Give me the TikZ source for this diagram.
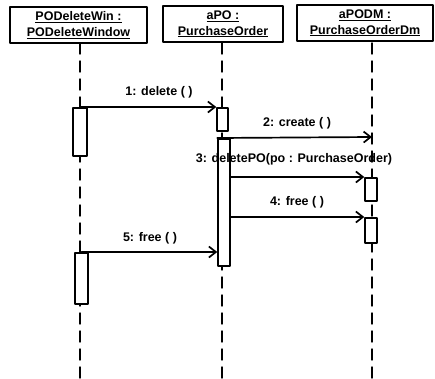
\documentclass[tikz,border=0pt]{standalone}
\usepackage{fontspec}
\setmainfont{Liberation Sans}
\usetikzlibrary{arrows.meta}

\begin{document}
\begin{tikzpicture}[
  x=1pt,
  y=-1pt,
  line cap=round,
  line join=round,
  object/.style={draw=black, line width=2.4, fill=white, minimum width=#1, minimum height=36,
    align=center, inner sep=0, font=\bfseries\fontsize{12.5}{15.5}\selectfont},
  act/.style={draw=black, line width=1.5, fill=white, anchor=north, minimum width=12, inner sep=0},
  lifeline/.style={draw=black, line width=1.4, dash pattern=on 11 off 7},
  msg/.style={draw=black, line width=1.7, -{Straight Barb[length=7,width=11,line width=1.7]}},
  msglabel/.style={font=\bfseries\fontsize{12.5}{14}\selectfont, inner sep=0}
]
\path[use as bounding box] (0,0) rectangle (435,378);
\fill[white] (0,0) rectangle (435,378);

% Objects
\node[object=137] (win) at (78.5,25) {\underline{PODeleteWin :}\\\underline{PODeleteWindow}};
\node[object=120] (po) at (223,24) {\underline{aPO :}\\\underline{PurchaseOrder}};
\node[object=136] (dm) at (365,23) {\underline{aPODM :}\\\underline{PurchaseOrderDm}};

% Lifelines
\draw[lifeline] (80,43) -- (80,378);
\draw[lifeline] (222,43) -- (222,378);
\draw[lifeline] (372,43) -- (372,378);

% Activations
\node[act, minimum width=14, minimum height=48] (w1) at (80,107) {};
\node[act, minimum width=13, minimum height=51] (w2) at (81.5,252) {};
\node[act, minimum width=11, minimum height=23] (p1) at (222.5,107) {};
\node[act, minimum height=127] (p2) at (224,138) {};
\node[act, minimum height=23] (d3) at (371,177) {};
\node[act, minimum height=25] (d4) at (371,217) {};
\coordinate (c2) at (372,137);

% Messages
\draw[msg] (w1.north) -- (p1.north west);
\node[msglabel] (l1) at (159,92) {1: delete ( )};

\draw[msg] (p2.north west) -- (c2);
\node[msglabel] (l2) at (297,123) {2: create ( )};

\draw[msg] (p2.east |- d3.north west) -- (d3.north west);
\node[msglabel] (l3) at (294,159) {3: deletePO(po : PurchaseOrder)};

\draw[msg] (p2.east |- d4.north west) -- (d4.north west);
\node[msglabel] (l4) at (297,202) {4: free ( )};

\draw[msg] (w2.north) -- (w2.north -| p2.west);
\node[msglabel] (l5) at (150,238) {5: free ( )};

\end{tikzpicture}
\end{document}
